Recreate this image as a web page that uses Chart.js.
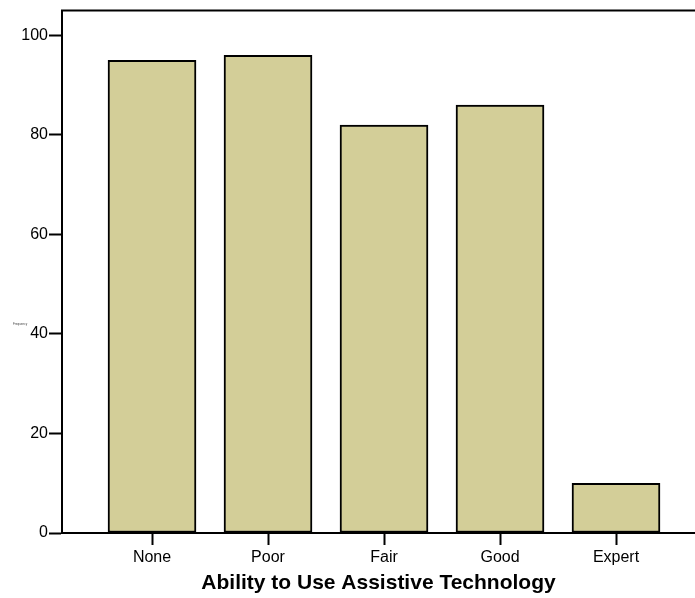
<!DOCTYPE html>
<html>
<head>
<meta charset="utf-8">
<script src="https://cdn.jsdelivr.net/npm/chart.js/dist/chart.umd.min.js"></script>
<style>
    body { margin: 0; background: #fff; }
    #wrap { width: 695px; height: 598px; }
</style>
</head>
<body>
<div id="wrap"><canvas id="chart"></canvas></div>
<script>
    // datos
    const categories = ['None', 'Poor', 'Fair', 'Good', 'Expert'];
    const frequency = [95, 96, 82, 86, 10];
    const yTicks = [0, 20, 40, 60, 80, 100];

    Chart.defaults.font.family = 'Arial, "Liberation Sans", sans-serif';
    Chart.defaults.color = '#000';

    // linea superior del marco y etiqueta diminuta del eje y
    const frame = {
        id: 'frame',
        afterDraw(chart) {
            const { ctx, chartArea } = chart;
            ctx.save();
            ctx.strokeStyle = '#000';
            ctx.lineWidth = 2;
            ctx.beginPath();
            ctx.moveTo(chartArea.left - 1, chartArea.top);
            ctx.lineTo(chart.width, chartArea.top);
            ctx.stroke();
            ctx.font = '3px Arial';
            ctx.fillStyle = '#444';
            ctx.textBaseline = 'middle';
            ctx.fillText('Frequency', 13, 324);
            ctx.restore();
        }
    };

    new Chart(document.getElementById('chart'), {
        type: 'bar',
        data: {
            datasets: [{
                label: 'Frequency',
                data: frequency.map((v, i) => ({ x: i, y: v })),
                backgroundColor: 'rgb(211, 206, 152)',
                borderColor: '#000',
                borderWidth: 2,
                borderSkipped: false,
                barThickness: 88
            }]
        },
        plugins: [frame],
        options: {
            responsive: true,
            maintainAspectRatio: false,
            animation: false,
            layout: { padding: { top: 9, right: 0, left: 0, bottom: 0 } },
            plugins: {
                legend: { display: false },
                tooltip: { enabled: false }
            },
            scales: {
                x: {
                    type: 'linear',
                    min: -0.776,
                    max: 4.681,
                    offset: false,
                    afterBuildTicks: (scale) => { scale.ticks = categories.map((c, i) => ({ value: i })); },
                    afterFit: (scale) => { scale.height = 65; },
                    ticks: {
                        callback: (v) => categories[v],
                        font: { size: 16 },
                        padding: 3,
                        maxRotation: 0
                    },
                    grid: {
                        offset: false,
                        drawOnChartArea: false,
                        tickLength: 12,
                        tickWidth: 2,
                        tickColor: '#000'
                    },
                    border: { color: '#000', width: 2 },
                    title: {
                        display: true,
                        text: 'Ability to Use Assistive Technology',
                        font: { size: 21, weight: 'bold' },
                        padding: { top: 0, bottom: 2 }
                    }
                },
                y: {
                    min: 0,
                    max: 105,
                    afterBuildTicks: (scale) => { scale.ticks = yTicks.map(v => ({ value: v })); },
                    afterFit: (scale) => { scale.width = 62; },
                    ticks: {
                        font: { size: 16 },
                        padding: 1
                    },
                    grid: {
                        drawOnChartArea: false,
                        tickLength: 13,
                        tickWidth: 2,
                        tickColor: '#000'
                    },
                    border: { color: '#000', width: 2 }
                }
            }
        }
    });
</script>
</body>
</html>
